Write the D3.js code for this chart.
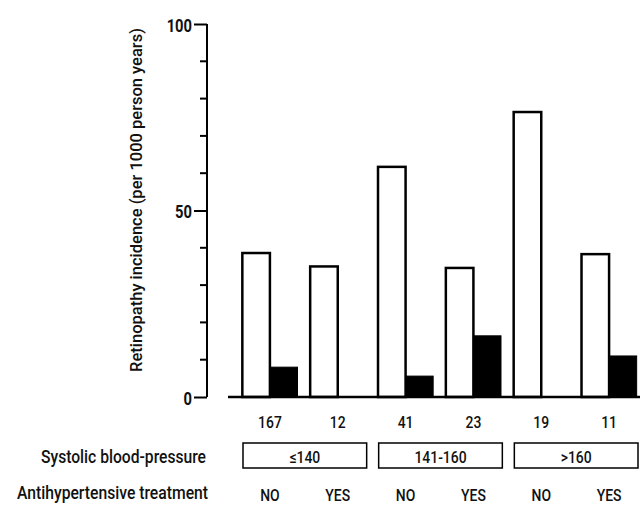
<!DOCTYPE html>
<html>
<head>
<meta charset="utf-8">
<script src="https://cdn.jsdelivr.net/npm/d3@7"></script>
<style>
  body { margin: 0; background: #fff; }
  text { font-family: Roboto, "DejaVu Sans", sans-serif; font-weight: 500; fill: #111; }
</style>
</head>
<body>
<div id="chart"></div>
<script>
// chart values
var sampleSizes = ["167", "12", "41", "23", "19", "11"],
    openBars = [38.6, 35, 61.7, 34.6, 76.4, 38.3],
    filledBars = [8, 0, 5.6, 16.4, 0, 11],
    bpGroups = ["≤140", "141-160", ">160"],
    treatment = ["NO", "YES", "NO", "YES", "NO", "YES"],
    majorTicks = [0, 50, 100],
    minorTicks = [10, 20, 30, 40, 60, 70, 80, 90];

var w = 640,
    h = 505,
    narrow = 0.82,
    svg = d3.select("#chart")
            .append("svg")
            .attr("width", w)
            .attr("height", h),
    x = d3.scaleBand().domain(sampleSizes).range([236, 643]).paddingInner(0),
    sub = d3.scaleBand().domain(["open", "filled"]).range([0, x.bandwidth()]).paddingOuter(0.23).paddingInner(0),
    y = d3.scaleLinear().domain([0, 100]).range([397, 24]);

var rows = sampleSizes.map(function(s, i) {
    return { key: s, open: openBars[i], filled: filledBars[i], treat: treatment[i] };
});

// condensed text placed at (tx, ty)
function cond(tx, ty) {
    return "translate(" + tx + "," + ty + ") scale(" + narrow + ",1)";
}

// y axis with major ticks
var yAxis = svg.append("g")
    .attr("transform", "translate(207,0)")
    .call(d3.axisLeft(y).tickValues(majorTicks).tickSize(13).tickPadding(3));
yAxis.select(".domain").attr("stroke-width", 2).attr("d", "M0," + y(100) + "V" + y(0));
yAxis.selectAll(".tick line").attr("stroke-width", 2);
yAxis.selectAll(".tick text")
    .attr("font-family", null)
    .attr("font-size", null)
    .attr("x", 0)
    .attr("dy", null)
    .attr("transform", cond(-15, 7))
    .style("font-size", "18px")
    .style("font-weight", "bold");

// minor ticks
svg.append("g").selectAll("line")
    .data(minorTicks)
    .enter()
    .append("line")
    .attr("x1", 200)
    .attr("x2", 207)
    .attr("y1", function(d) { return y(d); })
    .attr("y2", function(d) { return y(d); })
    .attr("stroke", "#000")
    .attr("stroke-width", 2);

// y label
svg.append("text")
    .attr("transform", "translate(142,200) rotate(-90)")
    .attr("text-anchor", "middle")
    .style("font-size", "16.5px")
    .text("Retinopathy incidence (per 1000 person years)");

// bars
var g = svg.append("g").selectAll("g")
    .data(rows)
    .enter()
    .append("g")
    .attr("transform", function(d) { return "translate(" + x(d.key) + ",0)"; });

g.append("rect")
    .attr("x", sub("open"))
    .attr("y", function(d) { return y(d.open); })
    .attr("width", sub.bandwidth())
    .attr("height", function(d) { return y(0) - y(d.open); })
    .attr("fill", "#fff")
    .attr("stroke", "#000")
    .attr("stroke-width", 2.5);

g.filter(function(d) { return d.filled > 0; })
    .append("rect")
    .attr("x", sub("filled"))
    .attr("y", function(d) { return y(d.filled); })
    .attr("width", sub.bandwidth())
    .attr("height", function(d) { return y(0) - y(d.filled); })
    .attr("fill", "#000")
    .attr("stroke", "#000")
    .attr("stroke-width", 1);

// baseline
svg.append("line")
    .attr("x1", 228)
    .attr("x2", 640)
    .attr("y1", y(0))
    .attr("y2", y(0))
    .attr("stroke", "#000")
    .attr("stroke-width", 2.5);

// sample size labels
g.append("text")
    .attr("transform", cond(x.bandwidth() / 2, 428))
    .attr("text-anchor", "middle")
    .style("font-size", "17px")
    .text(function(d) { return d.key; });

// treatment labels
g.append("text")
    .attr("transform", cond(x.bandwidth() / 2, 501))
    .attr("text-anchor", "middle")
    .style("font-size", "17px")
    .text(function(d) { return d.treat; });

// blood-pressure boxes
var b = svg.append("g").selectAll("g")
    .data(bpGroups)
    .enter()
    .append("g");

b.append("rect")
    .attr("x", function(d, i) { return x(sampleSizes[2 * i]) + 7; })
    .attr("y", 443)
    .attr("width", function(d, i) { return x(sampleSizes[2 * i + 1]) + x.bandwidth() - 5 - (x(sampleSizes[2 * i]) + 7); })
    .attr("height", 25)
    .attr("fill", "none")
    .attr("stroke", "#000")
    .attr("stroke-width", 1.5);

b.append("text")
    .attr("transform", function(d, i) { return cond(x(sampleSizes[2 * i]) + x.bandwidth() + 1, 463); })
    .attr("text-anchor", "middle")
    .style("font-size", "17px")
    .text(function(d) { return d; });

// row titles
svg.append("text")
    .attr("x", 206)
    .attr("y", 463)
    .attr("text-anchor", "end")
    .attr("textLength", 165)
    .attr("lengthAdjust", "spacingAndGlyphs")
    .style("font-size", "19px")
    .text("Systolic blood-pressure");

svg.append("text")
    .attr("x", 208)
    .attr("y", 499)
    .attr("text-anchor", "end")
    .attr("textLength", 191)
    .attr("lengthAdjust", "spacingAndGlyphs")
    .style("font-size", "19px")
    .text("Antihypertensive treatment");
</script>
</body>
</html>
